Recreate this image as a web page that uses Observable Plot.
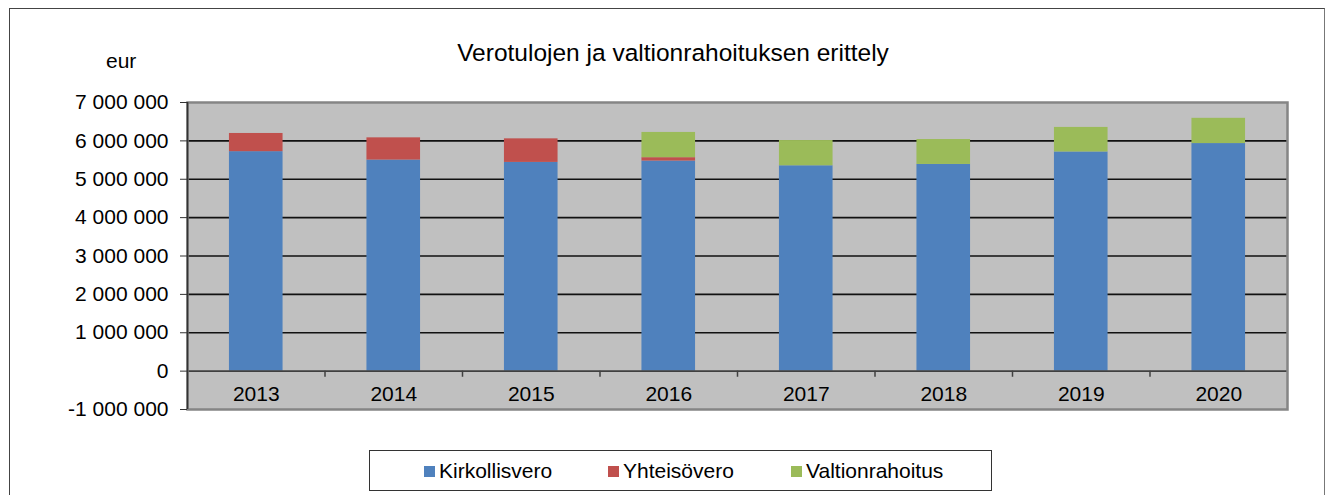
<!DOCTYPE html>
<html>
<head>
<meta charset="utf-8">
<script src="https://cdn.jsdelivr.net/npm/d3@7"></script>
<script src="https://cdn.jsdelivr.net/npm/@observablehq/plot@0.6"></script>
<style>
  html, body { margin: 0; padding: 0; background: #fff; }
  #wrap { position: relative; width: 1330px; height: 495px; overflow: hidden;
          font-family: "Liberation Sans", Arial, sans-serif; color: #000; }
  #outer { position: absolute; left: 9px; top: 8px; width: 1316px; height: 520px;
           border: 1.5px solid #444; border-right-color: #777; box-sizing: border-box; }
  #title { position: absolute; left: 0; width: 1346px; top: 39px; text-align: center; font-size: 24.5px; }
  #unit { position: absolute; left: 106px; top: 49px; font-size: 21px; }
  #legend { position: absolute; left: 369px; top: 450px; width: 623px; height: 41px;
            border: 1.2px solid #333; box-sizing: border-box; }
  .li { position: absolute; top: 8px; font-size: 21px; white-space: nowrap; }
  .sw { display: inline-block; width: 11px; height: 11px; margin-right: 4px; vertical-align: 1px; }
  #chart { position: absolute; left: 0; top: 0; }
</style>
</head>
<body>
<div id="wrap">
  <div id="outer"></div>
  <div id="chart"></div>
  <div id="title">Verotulojen ja valtionrahoituksen erittely</div>
  <div id="unit">eur</div>
  <div id="legend"></div>
</div>
<script>
const years = ["2013", "2014", "2015", "2016", "2017", "2018", "2019", "2020"];
const seriesNames = ["Kirkollisvero", "Yhteisövero", "Valtionrahoitus"];
const seriesColors = ["#4f81bd", "#c0504d", "#9bbb59"];
const kirkollisvero   = [5719000, 5500000, 5439000, 5474000, 5351000, 5386000, 5711000, 5930000];
const yhteisovero     = [474000, 579000, 614000, 88000, 0, 0, 0, 0];
const valtionrahoitus = [0, 0, 0, 658000, 658000, 649000, 640000, 658000];
const yTicks = [-1000000, 0, 1000000, 2000000, 3000000, 4000000, 5000000, 6000000, 7000000];

const seriesValues = [kirkollisvero, yhteisovero, valtionrahoitus];
const rows = [];
years.forEach((yr, i) => {
  let base = 0;
  seriesValues.forEach((vals, s) => {
    const v = vals[i];
    if (v > 0) rows.push({i, year: yr, series: seriesNames[s], y1: base, y2: base + v});
    base += v;
  });
});

const fmt = d => d3.format(",")(d).replace(/,/g, "\u00a0").replace("\u2212", "-");
const n = years.length;

const chart = Plot.plot({
  width: 1330,
  height: 495,
  marginLeft: 187,
  marginRight: 43,
  marginTop: 102,
  marginBottom: 86,
  style: {fontSize: "21px", fontFamily: "'Liberation Sans', Arial, sans-serif", color: "#000", background: "transparent"},
  x: {domain: [0, n], axis: null},
  y: {domain: [yTicks[0], yTicks[yTicks.length - 1]], ticks: yTicks, tickFormat: fmt, tickSize: 7, tickPadding: 12, label: null},
  color: {domain: seriesNames, range: seriesColors},
  marks: [
    Plot.frame({fill: "#c0c0c0", stroke: null}),
    Plot.ruleY(yTicks.filter(t => t > 0 && t < yTicks[yTicks.length - 1]), {stroke: "#111", strokeWidth: 1.6}),
    Plot.rectY(rows, {x1: d => d.i + 0.305, x2: d => d.i + 0.695, y1: "y1", y2: "y2", fill: "series"}),
    Plot.ruleY([0], {stroke: "#404040", strokeWidth: 1.6}),
    Plot.ruleX(d3.range(1, n), {y1: 0, y2: -160000, stroke: "#404040", strokeWidth: 1.5}),
    Plot.text(years, {x: (d, i) => i + 0.5, y: yTicks[0], dy: -15, text: d => d, fontSize: 21}),
    Plot.frame({stroke: "#858585", strokeWidth: 2.5}),
    Plot.ruleX([0], {stroke: "#333", strokeWidth: 1.6}),
    Plot.axisY({ticks: yTicks, tickFormat: fmt, tickSize: 7, tickPadding: 12, stroke: "#333"})
  ]
});
document.getElementById("chart").appendChild(chart);

const legend = document.getElementById("legend");
const legendLeft = [54, 238, 421];
seriesNames.forEach((name, k) => {
  const d = document.createElement("div");
  d.className = "li";
  d.style.left = legendLeft[k] + "px";
  d.innerHTML = `<span class="sw" style="background:${seriesColors[k]}"></span>${name}`;
  legend.appendChild(d);
});
</script>
</body>
</html>
